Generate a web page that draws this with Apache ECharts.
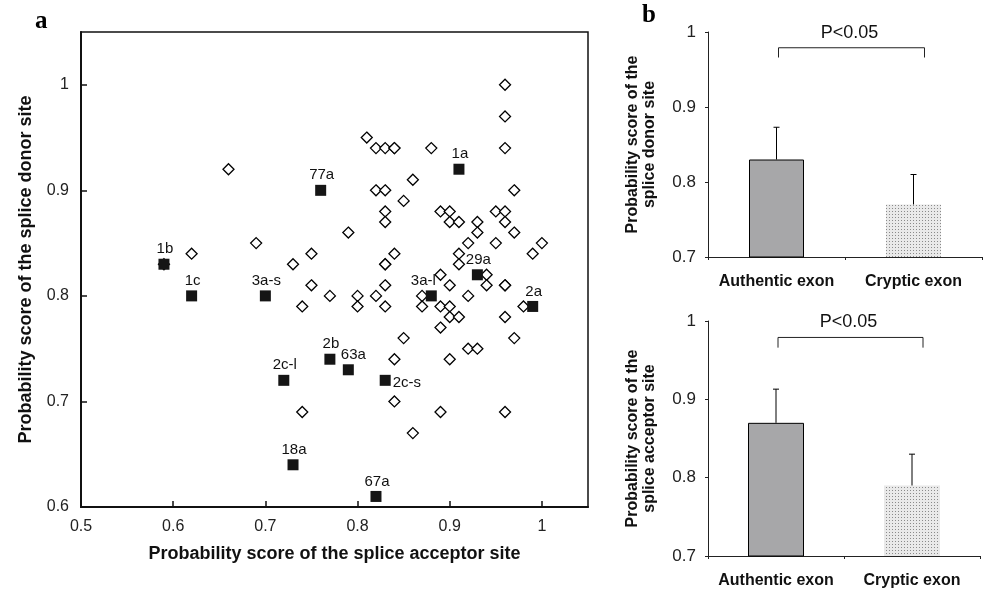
<!DOCTYPE html>
<html>
<head>
<meta charset="utf-8">
<title>Splice site scores</title>
<script src="https://cdn.jsdelivr.net/npm/echarts@6/dist/echarts.min.js"></script>
<style>
  html, body { margin: 0; padding: 0; background: #fff; }
  #main { width: 987px; height: 590px; }
</style>
</head>
<body>
<div id="main"></div>
<script>
// panel a: unlabeled exons (open diamonds)
var diamondAcceptor = [0.59, 0.66, 0.62, 0.69, 0.75, 0.73, 0.75, 0.77, 0.74, 0.74, 0.80, 0.80, 0.82, 0.83, 0.83, 0.83, 0.83,
  0.84, 0.85, 0.84, 0.81, 0.82, 0.83, 0.84, 0.84, 0.82, 0.83, 0.85, 0.83, 0.83, 0.86, 0.79,
  0.96, 0.96, 0.96, 0.88, 0.97, 0.89, 0.90, 0.90, 0.91, 0.93, 0.93, 0.95, 0.96, 0.96, 0.97,
  0.92, 0.95, 0.91, 1.00, 0.99, 0.91, 0.89, 0.90, 0.94, 0.94, 0.96, 0.96, 0.92, 0.87, 0.87,
  0.89, 0.90, 0.90, 0.91, 0.89, 0.96, 0.98, 0.97, 0.92, 0.93, 0.90, 0.84, 0.89, 0.96, 0.86];
var diamondDonor = [0.83, 0.92, 0.84, 0.85, 0.84, 0.83, 0.81, 0.80, 0.79, 0.69, 0.80, 0.79, 0.80, 0.81, 0.79, 0.83, 0.83,
  0.84, 0.76, 0.74, 0.95, 0.94, 0.94, 0.94, 0.94, 0.90, 0.90, 0.89, 0.88, 0.87, 0.91, 0.86,
  1.00, 0.97, 0.94, 0.94, 0.90, 0.88, 0.88, 0.87, 0.87, 0.87, 0.86, 0.88, 0.88, 0.87, 0.86,
  0.85, 0.85, 0.84, 0.85, 0.84, 0.83, 0.82, 0.81, 0.82, 0.81, 0.81, 0.81, 0.80, 0.80, 0.79,
  0.79, 0.79, 0.78, 0.78, 0.77, 0.78, 0.79, 0.76, 0.75, 0.75, 0.74, 0.70, 0.69, 0.69, 0.67];

// panel a: labeled exons (filled squares)
var labeledNames = ['1b', '1c', '3a-s', '77a', '1a', '29a', '3a-l', '2a', '2b', '63a', '2c-l', '2c-s', '18a', '67a'];
var labeledAcceptor = [0.59, 0.62, 0.70, 0.76, 0.91, 0.93, 0.88, 0.99, 0.77, 0.79, 0.72, 0.83, 0.73, 0.82];
var labeledDonor = [0.83, 0.80, 0.80, 0.90, 0.92, 0.82, 0.80, 0.79, 0.74, 0.73, 0.72, 0.72, 0.64, 0.61];

// panel b
var exonTypes = ['Authentic exon', 'Cryptic exon'];
var donorMean = [0.83, 0.77];
var donorSD = [0.043, 0.04];
var acceptorMean = [0.87, 0.79];
var acceptorSD = [0.043, 0.04];
var bracketTop = 0.979;
var bracketFoot = 0.966;
var pText = 'P<0.05';

var FONT = '"Liberation Sans", Arial, sans-serif';
var ink = '#111';

// label placement for the filled squares
var labelPlace = {
  '3a-l': { position: 'top', offset: [-8, 0] },
  '63a': { position: 'top', offset: [5, 0] },
  '2c-s': { position: 'right', offset: [0, 3] }
};

var diamonds = diamondAcceptor.map(function (x, i) { return [x, diamondDonor[i]]; });
var squares = labeledNames.map(function (n, i) {
  var p = labelPlace[n] || { position: 'top', offset: [1, 0] };
  return { name: n, value: [labeledAcceptor[i], labeledDonor[i]], label: { position: p.position, offset: p.offset } };
});

// dotted fill for the cryptic bars
var dots = document.createElement('canvas');
dots.width = 3; dots.height = 3;
var dctx = dots.getContext('2d');
dctx.fillStyle = '#e9e9e9';
dctx.fillRect(0, 0, 3, 3);
dctx.fillStyle = '#8a8a8a';
dctx.fillRect(1, 1, 1, 1);
var dotPattern = { image: dots, repeat: 'repeat' };

function barData(means) {
  return means.map(function (v, i) {
    if (i === 0) return { value: v, itemStyle: { color: '#a7a7a9', borderColor: '#000', borderWidth: 1 } };
    return { value: v, itemStyle: { color: dotPattern, borderWidth: 0 } };
  });
}

function errData(means, sds) {
  return means.map(function (v, i) { return [i, v, +(v + sds[i]).toFixed(3)]; });
}

function renderErr(params, api) {
  var b = api.coord([api.value(0), api.value(1)]);
  var t = api.coord([api.value(0), api.value(2)]);
  var st = { stroke: '#000', lineWidth: 1 };
  return {
    type: 'group',
    children: [
      { type: 'line', shape: { x1: b[0], y1: b[1], x2: t[0], y2: t[1] }, style: st },
      { type: 'line', shape: { x1: t[0] - 3, y1: t[1], x2: t[0] + 3, y2: t[1] }, style: st }
    ]
  };
}

function renderBracket(params, api) {
  var l = api.coord([api.value(0), api.value(2)]);
  var r = api.coord([api.value(1), api.value(2)]);
  var foot = api.coord([api.value(0), api.value(3)]);
  var x1 = l[0] + 2, x2 = r[0] + 11;
  return {
    type: 'group',
    children: [
      { type: 'polyline', shape: { points: [[x1, foot[1]], [x1, l[1]], [x2, l[1]], [x2, foot[1]]] },
        style: { stroke: '#222', lineWidth: 1, fill: null } },
      { type: 'text', x: (x1 + x2) / 2 - 2, y: l[1] - 15,
        style: { text: pText, font: '18px ' + FONT, fill: ink, align: 'center', verticalAlign: 'middle' } }
    ]
  };
}

function barYAxis(idx, title) {
  return {
    gridIndex: idx, type: 'value', min: 0.7, max: 1, interval: 0.1,
    name: title, nameLocation: 'middle', nameGap: 50,
    nameTextStyle: { fontFamily: FONT, fontWeight: 'bold', fontSize: 16, color: ink, lineHeight: 17 },
    axisLine: { show: true, lineStyle: { color: '#222', width: 1 } },
    axisTick: { show: true, length: 3, lineStyle: { color: '#222' } },
    axisLabel: { fontFamily: FONT, fontSize: 17, color: '#222', margin: 12 },
    splitLine: { show: false }
  };
}

function barXAxis(idx) {
  return {
    gridIndex: idx, type: 'category', data: exonTypes,
    axisLine: { lineStyle: { color: '#222', width: 1 } },
    axisTick: { show: true, length: 3, lineStyle: { color: '#222' } },
    axisLabel: { interval: 0, fontFamily: FONT, fontWeight: 'bold', fontSize: 16, color: ink, margin: 17 }
  };
}

var chart = echarts.init(document.getElementById('main'), null, { renderer: 'canvas' });

chart.setOption({
  animation: false,
  backgroundColor: '#fff',
  textStyle: { fontFamily: FONT },
  graphic: [
    { type: 'text', left: 35, top: 9, style: { text: 'a', font: 'bold 25px "Liberation Serif", serif', fill: '#000' } },
    { type: 'text', left: 642, top: 3, style: { text: 'b', font: 'bold 25px "Liberation Serif", serif', fill: '#000' } }
  ],
  grid: [
    { left: 81, top: 32, width: 507, height: 475, show: true, borderColor: '#111', borderWidth: 1.5 },
    { left: 708, top: 32, width: 274, height: 225 },
    { left: 708, top: 321, width: 272, height: 235 }
  ],
  xAxis: [
    {
      gridIndex: 0, type: 'value', min: 0.5, max: 1.05, interval: 0.1,
      name: 'Probability score of the splice acceptor site', nameLocation: 'middle', nameGap: 38,
      nameTextStyle: { fontFamily: FONT, fontWeight: 'bold', fontSize: 18, color: ink },
      axisLine: { lineStyle: { color: '#111', width: 2 } },
      axisTick: { inside: true, length: 6, lineStyle: { color: '#111', width: 1.5 } },
      axisLabel: { fontFamily: FONT, fontSize: 16, color: '#222', margin: 12, showMaxLabel: false },
      splitLine: { show: false }
    },
    barXAxis(1),
    barXAxis(2)
  ],
  yAxis: [
    {
      gridIndex: 0, type: 'value', min: 0.6, max: 1.05, interval: 0.1,
      name: 'Probability score of the splice donor site', nameLocation: 'middle', nameGap: 46,
      nameTextStyle: { fontFamily: FONT, fontWeight: 'bold', fontSize: 18, color: ink },
      axisLine: { lineStyle: { color: '#111', width: 2 } },
      axisTick: { inside: true, length: 6, lineStyle: { color: '#111', width: 1.5 } },
      axisLabel: { fontFamily: FONT, fontSize: 16, color: '#222', margin: 12, showMaxLabel: false },
      splitLine: { show: false }
    },
    barYAxis(1, 'Probability score of the\nsplice donor site'),
    barYAxis(2, 'Probability score of the\nsplice acceptor site')
  ],
  series: [
    {
      type: 'scatter', xAxisIndex: 0, yAxisIndex: 0, data: diamonds,
      symbol: 'diamond', symbolSize: 11,
      itemStyle: { color: '#fff', borderColor: '#000', borderWidth: 1.3, opacity: 1 },
      z: 2
    },
    {
      type: 'scatter', xAxisIndex: 0, yAxisIndex: 0, data: squares,
      symbol: 'rect', symbolSize: 11,
      itemStyle: { color: '#151515', opacity: 1 },
      label: { show: true, formatter: '{b}', fontFamily: FONT, fontSize: 15, color: ink, distance: 2 },
      z: 3
    },
    {
      type: 'bar', xAxisIndex: 1, yAxisIndex: 1, data: barData(donorMean), barWidth: 55, z: 2
    },
    {
      type: 'custom', xAxisIndex: 1, yAxisIndex: 1, data: errData(donorMean, donorSD),
      renderItem: renderErr, encode: { x: 0, y: [1, 2] }, z: 3
    },
    {
      type: 'custom', xAxisIndex: 1, yAxisIndex: 1, data: [[0, 1, bracketTop, bracketFoot]],
      renderItem: renderBracket, encode: { x: 0, y: 2 }, z: 3
    },
    {
      type: 'bar', xAxisIndex: 2, yAxisIndex: 2, data: barData(acceptorMean), barWidth: 56, z: 2
    },
    {
      type: 'custom', xAxisIndex: 2, yAxisIndex: 2, data: errData(acceptorMean, acceptorSD),
      renderItem: renderErr, encode: { x: 0, y: [1, 2] }, z: 3
    },
    {
      type: 'custom', xAxisIndex: 2, yAxisIndex: 2, data: [[0, 1, bracketTop, bracketFoot]],
      renderItem: renderBracket, encode: { x: 0, y: 2 }, z: 3
    }
  ]
});
</script>
</body>
</html>
